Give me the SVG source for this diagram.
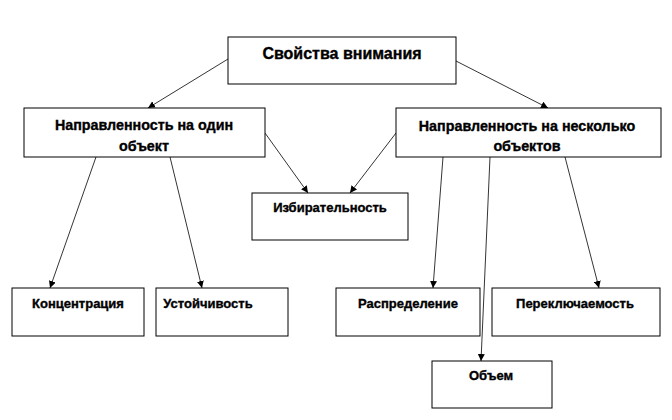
<svg xmlns="http://www.w3.org/2000/svg" width="672" height="420" viewBox="0 0 672 420">
<style>
.box{fill:#fff;stroke:#000;stroke-width:1}
.t{font-family:"Liberation Sans",Arial,sans-serif;font-weight:bold;fill:#000;stroke:#000;stroke-width:0.35;text-anchor:middle}
.t15{font-size:16px}
.t13{font-size:14.3px}
.t12{font-size:13px}
.c{stroke:#000;stroke-width:0.8;fill:none;marker-end:url(#ah)}
</style>
<defs>
<marker id="ah" viewBox="0 0 10 10" refX="10" refY="5" markerWidth="7" markerHeight="7" markerUnits="userSpaceOnUse" orient="auto">
<path d="M0,0 L10,5 L0,10 z" fill="#000"/>
</marker>
</defs>
<rect width="672" height="420" fill="#fff"/>
<g id="connectors">
<line class="c" x1="228" y1="59" x2="148" y2="108"/>
<line class="c" x1="456" y1="61" x2="548" y2="108"/>
<line class="c" x1="265" y1="133" x2="308" y2="193"/>
<line class="c" x1="396" y1="133" x2="350" y2="193"/>
<line class="c" x1="96" y1="157" x2="50" y2="288"/>
<line class="c" x1="170" y1="157" x2="202" y2="288"/>
<line class="c" x1="443" y1="157" x2="433" y2="288"/>
<line class="c" x1="490" y1="157" x2="481" y2="361"/>
<line class="c" x1="565" y1="157" x2="599" y2="288"/>
</g>
<g id="n_svoystva">
<rect class="box" x="228" y="37" width="228" height="47"/>
<text class="t t15" x="342" y="59">Свойства внимания</text>
</g>
<g id="n_odin">
<rect class="box" x="24" y="108" width="241" height="49"/>
<text class="t t13" x="144" y="130">Направленность на один</text>
<text class="t t13" x="144" y="151">объект</text>
</g>
<g id="n_neskolko">
<rect class="box" x="396" y="108" width="265" height="49"/>
<text class="t t13" x="527" y="131">Направленность на несколько</text>
<text class="t t13" x="527" y="151">объектов</text>
</g>
<g id="n_izbir">
<rect class="box" x="252" y="193" width="156" height="47"/>
<text class="t t12" x="330" y="212">Избирательность</text>
</g>
<g id="n_koncentr">
<rect class="box" x="12" y="288" width="132" height="48"/>
<text class="t t12" x="78" y="308">Концентрация</text>
</g>
<g id="n_ustoych">
<rect class="box" x="156" y="288" width="132" height="48"/>
<text class="t t12" x="208" y="308">Устойчивость</text>
</g>
<g id="n_raspred">
<rect class="box" x="336" y="288" width="144" height="48"/>
<text class="t t12" x="408" y="308">Распределение</text>
</g>
<g id="n_perekl">
<rect class="box" x="492" y="288" width="168" height="48"/>
<text class="t t12" x="575" y="308">Переключаемость</text>
</g>
<g id="n_obem">
<rect class="box" x="432" y="361" width="120" height="47"/>
<text class="t t12" x="491" y="380">Объем</text>
</g>
</svg>
